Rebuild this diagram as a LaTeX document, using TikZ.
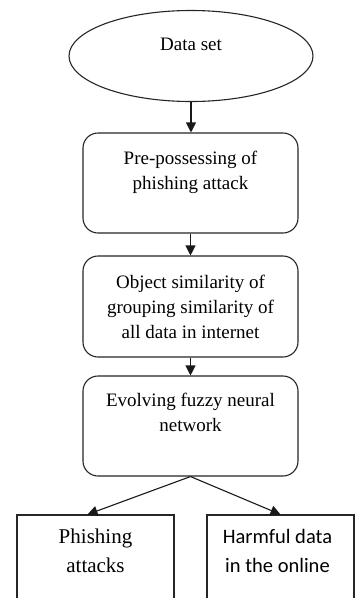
\documentclass[tikz,border=0pt]{standalone}
\usepackage{fontspec}
\setmainfont{Liberation Serif}
\newfontfamily\calib{Carlito}
\newfontfamily\serifb{Liberation Serif}
\usetikzlibrary{arrows.meta}
\tikzset{
  shapeline/.style={draw=black!85, line width=1.1pt},
  rbox/.style={shapeline, rectangle, rounded corners=15pt, inner sep=0pt, minimum width=215pt},
  sbox/.style={shapeline, rectangle, inner sep=0pt},
  txt/.style={anchor=base, inner sep=0pt, font=\serifb\fontsize{19}{25}\selectfont},
  txtb/.style={anchor=base, inner sep=0pt, font=\serifb\fontsize{21}{29}\selectfont},
  txtc/.style={anchor=base, inner sep=0pt, font=\calib\fontsize{20.5}{29}\selectfont},
  conn/.style={draw=black!90, line width=1.1pt, -{Triangle[length=10pt,width=10pt]}}
}
\begin{document}
\begin{tikzpicture}[x=1pt,y=-1pt]
\useasboundingbox (0,0) rectangle (355,598);
\fill[white] (0,0) rectangle (355,598);
% shapes
\draw[shapeline] (191,56) ellipse [x radius=122, y radius=45.5];
\coordinate (e) at (191,101.5);
\node[rbox, minimum height=100pt] (b1) at (190.5,183) {};
\node[rbox, minimum height=101pt] (b2) at (190.5,306.5) {};
\node[rbox, minimum height=100pt] (b3) at (190.5,426) {};
\node[sbox, minimum width=157pt, minimum height=125pt] (b4) at (95.5,577.5) {};
\node[sbox, minimum width=147pt, minimum height=125pt] (b5) at (280.5,577.5) {};
% texts
\node[txt] (t0) at (191,50) {Data set};
\node[txt] (t1a) at (190.5,164) {Pre-possessing of};
\node[txt] (t1b) at (190.5,189) {phishing attack};
\node[txt] (t2a) at (190.5,288) {Object similarity of};
\node[txt] (t2b) at (190.5,313) {grouping similarity of};
\node[txt] (t2c) at (190.5,338.5) {all data in internet};
\node[txt] (t3a) at (190.5,406) {Evolving fuzzy neural};
\node[txt] (t3b) at (190.5,431) {network};
\node[txt] (t4a) at (95.5,543) {\fontsize{21}{29}\selectfont Phishing};
\node[txt] (t4b) at (95.5,572) {\fontsize{21}{29}\selectfont attacks};
\node[txtc] (t5a) at (277.5,543) {Harmful data};
\node[txtc] (t5b) at (277.5,572) {in the online};
% connectors
\draw[conn] (e) -- (e |- b1.north);
\draw[conn] (b1.south) -- (b2.north);
\draw[conn] (b2.south) -- (b3.north);
\draw[conn] (b3.south) -- ([xshift=-8pt]b4.north);
\draw[conn] (b3.south) -- (b5.north);
\end{tikzpicture}
\end{document}
